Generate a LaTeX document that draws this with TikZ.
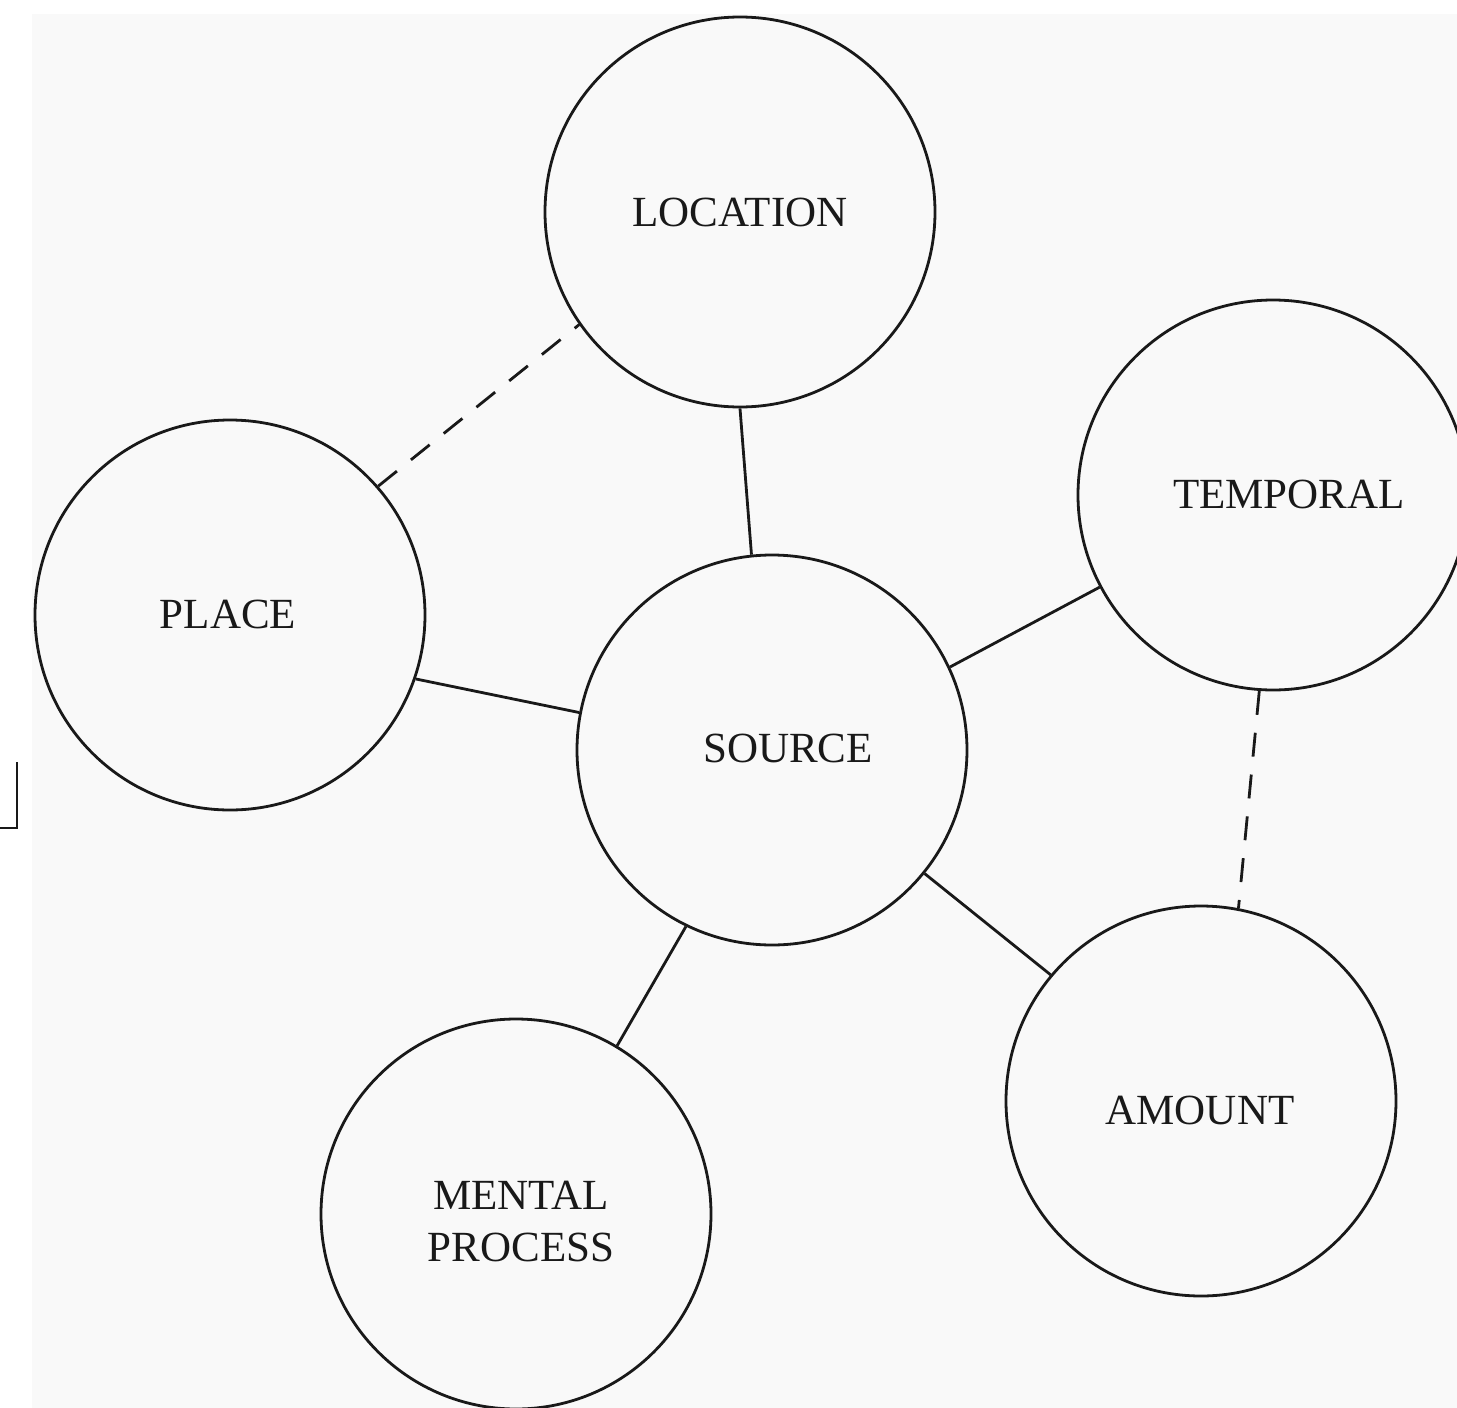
\documentclass[tikz,border=0pt]{standalone}
\usepackage{fontspec}
\setmainfont{Liberation Serif}
\definecolor{bggray}{RGB}{249,249,249}
\definecolor{ink}{RGB}{25,25,25}
\begin{document}
\begin{tikzpicture}[x=1pt,y=-1pt,
  bubble/.style={circle,draw=ink,line width=2.8pt,minimum size=390pt,inner sep=0pt},
  lbl/.style={font=\fontsize{43}{52}\selectfont,text=ink,align=center,inner sep=0pt},
  link/.style={draw=ink,line width=2.8pt},
  dlink/.style={draw=ink,line width=2.8pt,dash pattern=on 24pt off 18pt}]
\clip (0,0) rectangle (1457,1408);
\fill[white] (0,0) rectangle (1457,1408);
\fill[bggray] (32,14) rectangle (1457,1408);
% stray bracket at left
\coordinate (b1) at (17,762);
\coordinate (b2) at (17,828);
\coordinate (b3) at (0,828);
\draw[ink,line width=2.8pt] (b1) -- (b2) -- (b3);
% circles
\node[bubble] (loc) at (740,212) {};
\node[bubble] (tem) at (1273,495) {};
\node[bubble] (pla) at (230,615) {};
\node[bubble] (sou) at (772,750) {};
\node[bubble] (amo) at (1201,1101) {};
\node[bubble] (men) at (516,1214) {};
% labels
\node[lbl] (tloc) at (740,212) {LOCATION};
\node[lbl] (ttem) at (1289,494) {TEMPORAL};
\node[lbl] (tpla) at (228,614) {PLACE};
\node[lbl] (tsou) at (788,748) {SOURCE};
\node[lbl] (tamo) at (1200,1110) {AMOUNT};
\node[lbl] (tmen) at (521,1222) {MENTAL\\PROCESS};
% connectors
\draw[link] (loc.-90) -- (sou.96.5);
\draw[dlink] (pla.41.9) -- (loc.215.1);
\draw[link] (pla.-19.5) -- (sou.169.8);
\draw[link] (sou.25) -- (tem.208.6);
\draw[dlink] (tem.266.5) -- (amo.79.3);
\draw[link] (sou.-39.9) -- (amo.140);
\draw[link] (sou.244.7) -- (men.59.5);
\end{tikzpicture}
\end{document}
